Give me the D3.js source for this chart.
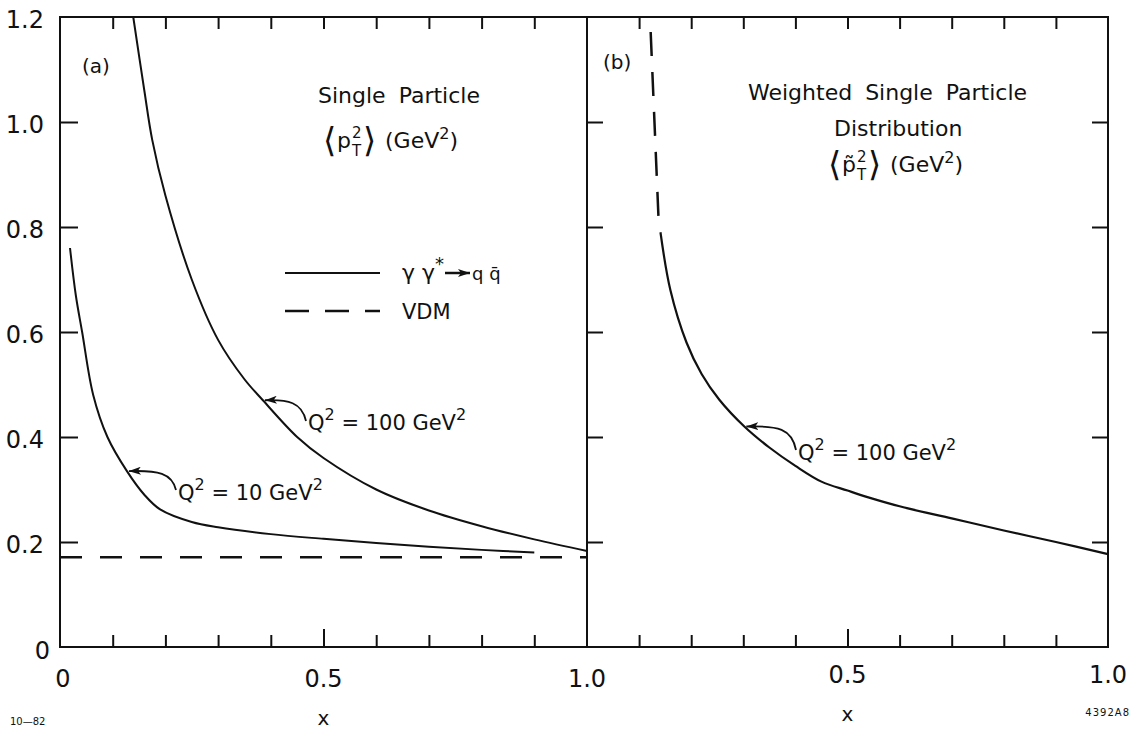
<!DOCTYPE html>
<html>
<head>
<meta charset="UTF-8">
<script src="https://d3js.org/d3.v7.min.js"></script>
<style>
  body { margin: 0; background: #fff; }
  svg text { font-family: "DejaVu Sans", sans-serif; fill: #111; }
</style>
</head>
<body>
<div id="chart"></div>
<script>
// ---- data ----
const yTickValues = [0.2, 0.4, 0.6, 0.8, 1.0];
const yTickLabels = ["0", "0.2", "0.4", "0.6", "0.8", "1.0", "1.2"];
const xMinorTicks = [0.1, 0.2, 0.3, 0.4, 0.5, 0.6, 0.7, 0.8, 0.9];

// panel (a): <pT^2>, gamma gamma* -> q qbar
const q100a = [
  [0.139, 1.2], [0.16, 1.06], [0.175, 0.966], [0.2, 0.86], [0.25, 0.70],
  [0.3, 0.585], [0.35, 0.51], [0.385, 0.47], [0.45, 0.40], [0.5, 0.36],
  [0.6, 0.30], [0.7, 0.26], [0.8, 0.23], [0.9, 0.205], [1.0, 0.183]
];
const q10a = [
  [0.019, 0.76], [0.03, 0.67], [0.042, 0.60], [0.063, 0.48], [0.09, 0.40],
  [0.127, 0.335], [0.16, 0.29], [0.19, 0.262], [0.25, 0.238], [0.3, 0.228],
  [0.4, 0.215], [0.5, 0.206], [0.6, 0.198], [0.7, 0.191], [0.8, 0.185], [0.9, 0.18]
];
const vdmA = [[0, 0.171], [1.0, 0.171]];

// panel (b): weighted single particle distribution
const q100b = [
  [0.141, 0.79], [0.16, 0.68], [0.191, 0.58], [0.22, 0.52], [0.254, 0.471],
  [0.302, 0.42], [0.35, 0.38], [0.4, 0.345], [0.45, 0.315], [0.5, 0.298],
  [0.54, 0.285], [0.6, 0.268], [0.7, 0.245], [0.8, 0.222], [0.9, 0.2], [1.0, 0.177]
];
const vdmB = [[0.121, 1.2], [0.138, 0.8]];

const W = 1139, H = 740;
const svg = d3.select("#chart").append("svg").attr("width", W).attr("height", H);

const y = d3.scaleLinear().domain([0, 1.2]).range([647, 17]);
const xA = d3.scaleLinear().domain([0, 1]).range([60, 587]);
const xB = d3.scaleLinear().domain([0, 1]).range([587, 1108]);

const ink = "#111";

// frame
svg.append("rect")
  .attr("x", xA(0)).attr("y", y(1.2))
  .attr("width", xB(1) - xA(0)).attr("height", y(0) - y(1.2))
  .attr("fill", "none").attr("stroke", ink).attr("stroke-width", 2);
svg.append("line")
  .attr("x1", xA(1)).attr("x2", xA(1)).attr("y1", y(1.2)).attr("y2", y(0))
  .attr("stroke", ink).attr("stroke-width", 2);

// ticks with d3 axes
function drawAxis(axis, tx, ty) {
  const g = svg.append("g").attr("transform", `translate(${tx},${ty})`).call(axis);
  g.select(".domain").remove();
  g.selectAll("text").remove();
  g.selectAll("line").attr("stroke", ink).attr("stroke-width", 2);
  return g;
}
[xA, xB].forEach(sc => {
  // bottom ticks point up (0.5 longer)
  const gb = drawAxis(d3.axisTop(sc).tickValues(xMinorTicks).tickSize(12), 0, y(0));
  gb.selectAll(".tick line").attr("y2", d => Math.abs(d - 0.5) < 1e-6 ? -18 : -12);
  // top ticks point down
  drawAxis(d3.axisBottom(sc).tickValues(xMinorTicks).tickSize(12), 0, y(1.2));
});
drawAxis(d3.axisRight(y).tickValues(yTickValues).tickSize(18), xA(0), 0);
drawAxis(d3.axisRight(y).tickValues(yTickValues).tickSize(16), xA(1), 0);
drawAxis(d3.axisLeft(y).tickValues(yTickValues).tickSize(16), xB(1), 0);

// tick labels
const yLab = svg.append("g").style("font-size", "24px").attr("text-anchor", "end");
yTickLabels.forEach((t, i) => {
  const v = i * 0.2;
  yLab.append("text").attr("x", i === 0 ? 50 : 44).attr("y", y(v) + (i === 0 ? 12 : 11)).text(t);
});
const xLab = svg.append("g").style("font-size", "24px").attr("text-anchor", "middle");
[[xA, 0, "0"], [xA, 0.5, "0.5"], [xA, 1, "1.0"], [xB, 0.5, "0.5"], [xB, 1, "1.0"]].forEach(([sc, v, t]) => {
  xLab.append("text").attr("x", sc(v) + (v === 0 ? 3 : 0)).attr("y", sc === xA ? 687 : 683).text(t);
});
xLab.append("text").attr("x", xA(0.5)).attr("y", 725).style("font-size", "20px").text("x");
xLab.append("text").attr("x", xB(0.5)).attr("y", 721).style("font-size", "20px").text("x");
svg.append("text").attr("x", 10).attr("y", 725).style("font-size", "10px").text("10\u201482");
svg.append("text").attr("x", 1130).attr("y", 716).attr("text-anchor", "end")
  .style("font-size", "10px").style("letter-spacing", "1px").text("4392A8");

// curves
const lineA = d3.line().x(d => xA(d[0])).y(d => y(d[1])).curve(d3.curveCatmullRom.alpha(0.5));
const lineB = d3.line().x(d => xB(d[0])).y(d => y(d[1])).curve(d3.curveCatmullRom.alpha(0.5));
svg.append("path").attr("d", lineA(q100a)).attr("fill", "none").attr("stroke", ink).attr("stroke-width", 2);
svg.append("path").attr("d", lineA(q10a)).attr("fill", "none").attr("stroke", ink).attr("stroke-width", 2);
svg.append("path").attr("d", lineA(vdmA)).attr("fill", "none").attr("stroke", ink)
  .attr("stroke-width", 2.5).attr("stroke-dasharray", "22,18");
svg.append("path").attr("d", lineB(q100b)).attr("fill", "none").attr("stroke", ink).attr("stroke-width", 2.2);
svg.append("path").attr("d", d3.line().x(d => xB(d[0])).y(d => y(d[1]))(vdmB))
  .attr("fill", "none").attr("stroke", ink).attr("stroke-width", 2.5).attr("stroke-dasharray", "0,15,24,1");

// arrow marker
svg.append("defs").append("marker")
  .attr("id", "ah").attr("viewBox", "0 0 12 8").attr("refX", 12).attr("refY", 4)
  .attr("markerWidth", 12).attr("markerHeight", 8).attr("markerUnits", "userSpaceOnUse")
  .attr("orient", "auto")
  .append("path").attr("d", "M0,0 L12,4 L0,8 L3,4 Z").attr("fill", ink);

function annotArrow(hx, hy, tx, ty) {
  svg.append("path")
    .attr("d", `M${tx},${ty} C${tx - 4},${hy + 2} ${tx - 18},${hy - 1} ${hx},${hy}`)
    .attr("fill", "none").attr("stroke", ink).attr("stroke-width", 1.8)
    .attr("marker-end", "url(#ah)");
}
function qLabel(x0, yb, val) {
  const t = svg.append("text").attr("x", x0).attr("y", yb).style("font-size", "21px");
  t.append("tspan").text("Q");
  t.append("tspan").attr("dy", -10).style("font-size", "16px").text("2");
  t.append("tspan").attr("dy", 10).text(` = ${val} GeV`);
  t.append("tspan").attr("dy", -10).style("font-size", "16px").text("2");
}

// panel (a) annotations
annotArrow(xA(0.385) + 2, y(0.47), 306, 421);
qLabel(308, 430, "100");
annotArrow(xA(0.127) + 2, y(0.335), 176, 490);
qLabel(178, 500, "10");

// panel (b) annotation
annotArrow(xB(0.302) + 2, y(0.42), 796, 450);
qLabel(798, 460, "100");

// panel labels
svg.append("text").attr("x", 82).attr("y", 73).style("font-size", "20px").text("(a)");
svg.append("text").attr("x", 603).attr("y", 69).style("font-size", "20px").text("(b)");

// panel titles
function ptBracket(x0, yb, tilde) {
  const g = svg.append("g");
  g.append("text").attr("x", x0).attr("y", yb + 4).style("font-size", "34px").text("\u27E8");
  g.append("text").attr("x", x0 + 14).attr("y", yb).style("font-size", "22px").text(tilde ? "p\u0303" : "p");
  g.append("text").attr("x", x0 + 29).attr("y", yb - 10).style("font-size", "15px").text("2");
  g.append("text").attr("x", x0 + 29).attr("y", yb + 8).style("font-size", "15px").text("T");
  g.append("text").attr("x", x0 + 40).attr("y", yb + 4).style("font-size", "34px").text("\u27E9");
  const t = g.append("text").attr("x", x0 + 62).attr("y", yb).style("font-size", "22px");
  t.append("tspan").text("(GeV");
  t.append("tspan").attr("dy", -9).style("font-size", "16px").text("2");
  t.append("tspan").attr("dy", 9).text(")");
}
svg.append("text").attr("x", 318).attr("y", 103).style("font-size", "22px")
  .style("word-spacing", "6px").text("Single Particle");
ptBracket(323, 148, false);

svg.append("text").attr("x", 748).attr("y", 100).style("font-size", "22px")
  .style("word-spacing", "6px").text("Weighted Single Particle");
svg.append("text").attr("x", 834).attr("y", 136).style("font-size", "22px").text("Distribution");
ptBracket(828, 172, true);

// legend
const lg = svg.append("g");
lg.append("line").attr("x1", 285).attr("x2", 380).attr("y1", 273).attr("y2", 273)
  .attr("stroke", ink).attr("stroke-width", 2);
lg.append("line").attr("x1", 285).attr("x2", 380).attr("y1", 311).attr("y2", 311)
  .attr("stroke", ink).attr("stroke-width", 2.5).attr("stroke-dasharray", "24,16");
const lt = lg.append("text").attr("x", 402).attr("y", 280).style("font-size", "22px");
lt.append("tspan").text("\u03B3 \u03B3");
lt.append("tspan").attr("dy", -10).style("font-size", "18px").text("*");
lg.append("line").attr("x1", 445).attr("x2", 470).attr("y1", 273).attr("y2", 273)
  .attr("stroke", ink).attr("stroke-width", 2.5).attr("marker-end", "url(#ah)");
lg.append("text").attr("x", 472).attr("y", 280).style("font-size", "18px").text("q q\u0304");
lg.append("text").attr("x", 402).attr("y", 319).style("font-size", "21px").text("VDM");
</script>
</body>
</html>
